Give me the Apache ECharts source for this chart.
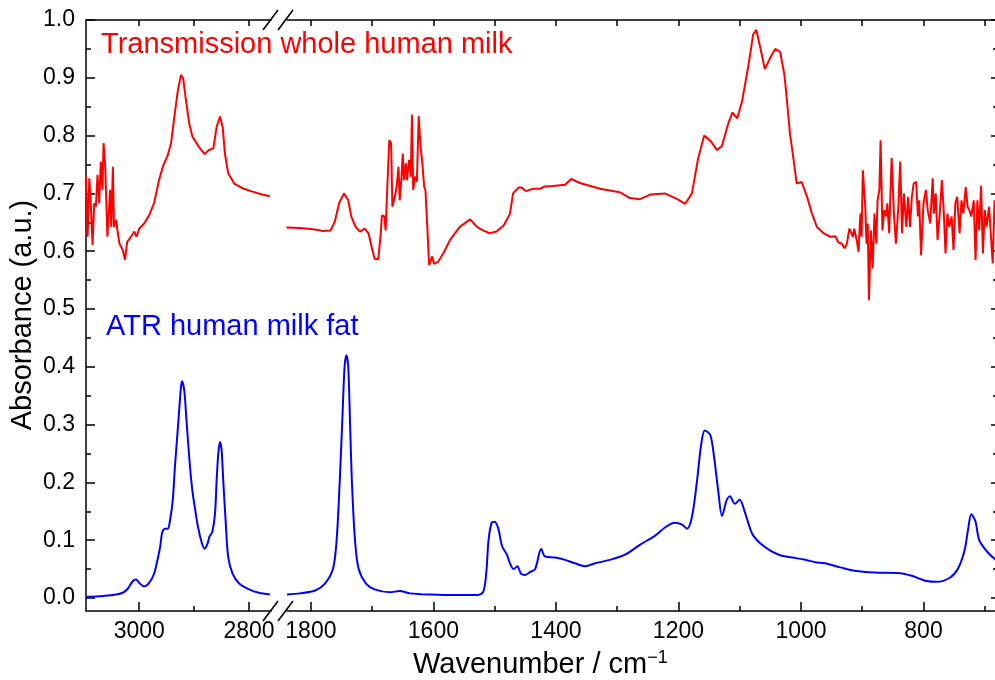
<!DOCTYPE html>
<html>
<head>
<meta charset="utf-8">
<title>FTIR spectra of human milk</title>
<script src="https://cdn.jsdelivr.net/npm/echarts@6/dist/echarts.min.js"></script>
<style>
  html, body { margin: 0; padding: 0; background: #fff; }
  #chart { width: 995px; height: 680px; }
</style>
</head>
<body>
<div id="chart"></div>
<script>
// tick values
const yMajor = [0, 0.1, 0.2, 0.3, 0.4, 0.5, 0.6, 0.7, 0.8, 0.9, 1.0]
const yMinor = [0.05, 0.15, 0.25, 0.35, 0.45, 0.55, 0.65, 0.75, 0.85, 0.95]
const highMajor = [3000, 2800]
const highMinor = [2900]
const lowMajor = [1800, 1600, 1400, 1200, 1000, 800]
const lowMinor = [1700, 1500, 1300, 1100, 900, 700]

// transmission, whole human milk (red), high wavenumber part
const transHighWn = [3097, 3094, 3091, 3088, 3085, 3082, 3079, 3076, 3073, 3070, 3067, 3065, 3062, 3058, 3053, 3051, 3048, 3046, 3042, 3039, 3036, 3033, 3030, 3026, 3022, 3015, 3009, 3005, 3000, 2991, 2982, 2973, 2964, 2956, 2948, 2942, 2936, 2930, 2924, 2920, 2915, 2909, 2903, 2891, 2881, 2873, 2865, 2859, 2853, 2848, 2844, 2838, 2827, 2812, 2794, 2776, 2762]
const transHighAbs = [0.732, 0.625, 0.726, 0.677, 0.611, 0.683, 0.677, 0.732, 0.683, 0.755, 0.706, 0.787, 0.746, 0.625, 0.706, 0.642, 0.746, 0.642, 0.654, 0.631, 0.613, 0.616, 0.602, 0.585, 0.616, 0.625, 0.634, 0.625, 0.639, 0.648, 0.662, 0.683, 0.723, 0.749, 0.766, 0.787, 0.833, 0.876, 0.905, 0.899, 0.862, 0.821, 0.798, 0.780, 0.768, 0.775, 0.778, 0.815, 0.833, 0.815, 0.769, 0.735, 0.717, 0.709, 0.703, 0.698, 0.695]

// transmission, low wavenumber part
const transLowWn = [1840, 1818, 1796, 1780, 1768, 1761, 1754, 1746, 1739, 1734, 1727, 1720, 1712, 1706, 1701, 1696, 1690, 1686, 1684, 1680, 1678, 1675, 1672, 1669, 1667, 1663, 1660, 1657, 1655, 1652, 1650, 1648, 1645, 1643, 1640, 1637, 1635, 1633, 1630, 1627, 1624, 1621, 1618, 1615, 1613, 1610, 1607, 1604, 1602, 1599, 1592, 1584, 1573, 1557, 1540, 1529, 1519, 1508, 1497, 1485, 1475, 1470, 1461, 1456, 1449, 1437, 1426, 1418, 1405, 1385, 1375, 1361, 1328, 1296, 1279, 1263, 1246, 1222, 1202, 1189, 1178, 1168, 1158, 1147, 1137, 1129, 1119, 1112, 1104, 1096, 1086, 1078, 1073, 1067, 1059, 1050, 1042, 1034, 1027, 1023, 1018, 1012, 1007, 999, 990, 982, 974, 963, 952, 944, 939, 933, 929, 925, 921, 918, 915, 913, 909, 906, 903, 901, 899, 895, 893, 891, 889, 886, 883, 880, 877, 875, 872, 870, 867, 864, 861, 859, 856, 852, 848, 845, 841, 838, 835, 832, 828, 825, 822, 819, 816, 812, 809, 807, 804, 800, 796, 793, 789, 785, 783, 780, 777, 773, 770, 767, 764, 761, 758, 754, 751, 748, 745, 741, 738, 735, 731, 728, 725, 722, 718, 715, 712, 709, 706, 703, 700, 697, 693, 690, 687, 684, 681]
const transLowAbs = [0.641, 0.640, 0.638, 0.635, 0.636, 0.651, 0.683, 0.700, 0.688, 0.660, 0.642, 0.634, 0.639, 0.631, 0.608, 0.587, 0.586, 0.631, 0.662, 0.660, 0.636, 0.717, 0.792, 0.787, 0.677, 0.694, 0.711, 0.746, 0.688, 0.729, 0.769, 0.723, 0.752, 0.723, 0.758, 0.729, 0.836, 0.706, 0.729, 0.720, 0.834, 0.781, 0.752, 0.711, 0.706, 0.642, 0.576, 0.579, 0.591, 0.578, 0.582, 0.596, 0.619, 0.642, 0.655, 0.642, 0.636, 0.631, 0.634, 0.645, 0.665, 0.700, 0.710, 0.710, 0.704, 0.708, 0.708, 0.712, 0.713, 0.715, 0.725, 0.718, 0.708, 0.702, 0.692, 0.690, 0.698, 0.700, 0.690, 0.682, 0.700, 0.760, 0.800, 0.790, 0.775, 0.782, 0.820, 0.840, 0.830, 0.860, 0.920, 0.975, 0.983, 0.955, 0.915, 0.935, 0.950, 0.945, 0.905, 0.862, 0.804, 0.758, 0.717, 0.720, 0.694, 0.665, 0.642, 0.631, 0.625, 0.626, 0.615, 0.613, 0.605, 0.613, 0.639, 0.642, 0.625, 0.639, 0.619, 0.599, 0.665, 0.625, 0.740, 0.677, 0.613, 0.648, 0.515, 0.636, 0.570, 0.665, 0.613, 0.688, 0.706, 0.792, 0.636, 0.671, 0.660, 0.683, 0.631, 0.761, 0.660, 0.613, 0.677, 0.755, 0.631, 0.700, 0.642, 0.694, 0.642, 0.694, 0.717, 0.720, 0.660, 0.688, 0.593, 0.683, 0.706, 0.671, 0.648, 0.726, 0.665, 0.700, 0.619, 0.671, 0.723, 0.671, 0.596, 0.665, 0.642, 0.660, 0.602, 0.683, 0.694, 0.631, 0.688, 0.665, 0.711, 0.677, 0.671, 0.660, 0.688, 0.585, 0.688, 0.636, 0.713, 0.596, 0.671, 0.642, 0.677, 0.677, 0.579, 0.688, 0.660]

// ATR, human milk fat (blue), high wavenumber part
const atrHighWn = [3097, 3073, 3048, 3030, 3021, 3012, 3006, 3000, 2991, 2982, 2973, 2967, 2962, 2958, 2953, 2948, 2944, 2939, 2935, 2929, 2924, 2922, 2918, 2914, 2909, 2904, 2899, 2893, 2886, 2881, 2876, 2872, 2867, 2862, 2859, 2856, 2853, 2850, 2847, 2842, 2838, 2830, 2818, 2800, 2782, 2762]
const atrHighAbs = [0.002, 0.003, 0.005, 0.009, 0.016, 0.029, 0.032, 0.026, 0.020, 0.026, 0.042, 0.065, 0.088, 0.114, 0.120, 0.120, 0.134, 0.169, 0.227, 0.302, 0.365, 0.375, 0.359, 0.308, 0.244, 0.192, 0.158, 0.123, 0.095, 0.085, 0.093, 0.106, 0.114, 0.146, 0.204, 0.250, 0.270, 0.256, 0.204, 0.123, 0.071, 0.042, 0.025, 0.015, 0.009, 0.006]

// ATR, low wavenumber part
const atrLowWn = [1839, 1818, 1793, 1777, 1764, 1758, 1753, 1749, 1745, 1742, 1739, 1736, 1733, 1728, 1722, 1710, 1696, 1671, 1655, 1638, 1606, 1557, 1530, 1519, 1514, 1510, 1505, 1500, 1494, 1488, 1480, 1475, 1469, 1463, 1457, 1450, 1442, 1434, 1424, 1418, 1401, 1385, 1369, 1352, 1336, 1312, 1287, 1263, 1238, 1222, 1206, 1194, 1186, 1178, 1170, 1163, 1157, 1148, 1142, 1135, 1129, 1121, 1116, 1108, 1100, 1092, 1080, 1067, 1050, 1034, 1014, 993, 977, 961, 936, 912, 880, 838, 818, 797, 778, 757, 744, 733, 727, 722, 715, 709, 696, 681]
const atrLowAbs = [0.006, 0.008, 0.013, 0.025, 0.050, 0.100, 0.200, 0.300, 0.400, 0.420, 0.400, 0.300, 0.200, 0.100, 0.050, 0.025, 0.015, 0.010, 0.012, 0.008, 0.006, 0.005, 0.005, 0.010, 0.040, 0.100, 0.130, 0.132, 0.120, 0.090, 0.075, 0.060, 0.050, 0.055, 0.042, 0.040, 0.045, 0.050, 0.085, 0.072, 0.070, 0.066, 0.060, 0.055, 0.060, 0.066, 0.075, 0.092, 0.108, 0.122, 0.130, 0.127, 0.120, 0.140, 0.200, 0.265, 0.290, 0.282, 0.245, 0.185, 0.142, 0.170, 0.176, 0.163, 0.170, 0.150, 0.112, 0.095, 0.082, 0.074, 0.070, 0.066, 0.062, 0.060, 0.053, 0.047, 0.044, 0.043, 0.038, 0.030, 0.028, 0.035, 0.050, 0.082, 0.120, 0.145, 0.132, 0.100, 0.080, 0.065]

const pairs = (xs, ys) => xs.map((x, i) => [x, ys[i]])

const font = '"Liberation Sans", Arial, sans-serif'
const black = { color: '#000', width: 1.5 }
const yMin = -0.0225
const yMax = 1.0
const plain = (v) => String(v)

function tickAxis(extra) {
  // an axis that only draws ticks (labels off, no line)
  return Object.assign({
    type: 'value',
    axisLine: { show: false, onZero: false },
    axisLabel: { show: false },
    splitLine: { show: false },
  }, extra)
}

const chart = echarts.init(document.getElementById('chart'))

const option = {
  animation: false,
  backgroundColor: '#fff',
  grid: [
    { left: 86, top: 20, width: 185, height: 591, outerBoundsMode: 'none' },
    { left: 287, top: 20, width: 710, height: 591, outerBoundsMode: 'none' },
  ],
  xAxis: [
    // left part, bottom, major ticks + labels
    {
      gridIndex: 0, type: 'value', inverse: true, min: 2760, max: 3097, position: 'bottom',
      axisLine: { show: true, onZero: false, lineStyle: black },
      axisTick: { show: true, inside: true, length: 9, customValues: highMajor, lineStyle: black },
      axisLabel: { customValues: highMajor, margin: 9, fontSize: 23, color: '#000', fontFamily: font, formatter: plain },
      splitLine: { show: false },
    },
    tickAxis({ gridIndex: 0, inverse: true, min: 2760, max: 3097, position: 'bottom',
      axisTick: { show: true, inside: true, length: 5, customValues: highMinor, lineStyle: black } }),
    {
      gridIndex: 0, type: 'value', inverse: true, min: 2760, max: 3097, position: 'top',
      axisLine: { show: true, onZero: false, lineStyle: black },
      axisTick: { show: true, inside: true, length: 6, customValues: highMajor.concat(highMinor), lineStyle: black },
      axisLabel: { show: false },
      splitLine: { show: false },
    },
    // right part
    {
      gridIndex: 1, type: 'value', inverse: true, min: 680, max: 1839, position: 'bottom',
      axisLine: { show: true, onZero: false, lineStyle: black },
      axisTick: { show: true, inside: true, length: 9, customValues: lowMajor, lineStyle: black },
      axisLabel: { customValues: lowMajor, margin: 9, fontSize: 23, color: '#000', fontFamily: font, formatter: plain },
      splitLine: { show: false },
    },
    tickAxis({ gridIndex: 1, inverse: true, min: 680, max: 1839, position: 'bottom',
      axisTick: { show: true, inside: true, length: 5, customValues: lowMinor, lineStyle: black } }),
    {
      gridIndex: 1, type: 'value', inverse: true, min: 680, max: 1839, position: 'top',
      axisLine: { show: true, onZero: false, lineStyle: black },
      axisTick: { show: true, inside: true, length: 6, customValues: lowMajor.concat(lowMinor), lineStyle: black },
      axisLabel: { show: false },
      splitLine: { show: false },
    },
  ],
  yAxis: [
    {
      gridIndex: 0, type: 'value', min: yMin, max: yMax, position: 'left',
      axisLine: { show: true, onZero: false, lineStyle: black },
      axisTick: { show: true, inside: true, length: 9, customValues: yMajor, lineStyle: black },
      axisLabel: {
        customValues: yMajor, margin: 11, fontSize: 23, color: '#000', fontFamily: font,
        formatter: (v) => v.toFixed(1),
      },
      splitLine: { show: false },
    },
    tickAxis({ gridIndex: 0, min: yMin, max: yMax, position: 'left',
      axisTick: { show: true, inside: true, length: 5, customValues: yMinor, lineStyle: black } }),
    {
      gridIndex: 1, type: 'value', min: yMin, max: yMax, position: 'right',
      axisLine: { show: true, onZero: false, lineStyle: black },
      axisTick: { show: true, inside: true, length: 6, customValues: yMajor, lineStyle: black },
      axisLabel: { show: false },
      splitLine: { show: false },
    },
    tickAxis({ gridIndex: 1, min: yMin, max: yMax, position: 'right',
      axisTick: { show: true, inside: true, length: 4, customValues: yMinor, lineStyle: black } }),
  ],
  series: [
    {
      name: 'Transmission whole human milk', type: 'line', xAxisIndex: 0, yAxisIndex: 0,
      data: pairs(transHighWn, transHighAbs), showSymbol: false,
      lineStyle: { color: '#ff0000', width: 2 },
    },
    {
      name: 'Transmission whole human milk', type: 'line', xAxisIndex: 3, yAxisIndex: 2,
      data: pairs(transLowWn, transLowAbs), showSymbol: false,
      lineStyle: { color: '#ff0000', width: 2 },
    },
    {
      name: 'ATR human milk fat', type: 'line', xAxisIndex: 0, yAxisIndex: 0,
      data: pairs(atrHighWn, atrHighAbs), showSymbol: false, smooth: 0.3,
      lineStyle: { color: '#0000ff', width: 2 },
    },
    {
      name: 'ATR human milk fat', type: 'line', xAxisIndex: 3, yAxisIndex: 2,
      data: pairs(atrLowWn, atrLowAbs), showSymbol: false, smooth: 0.3,
      lineStyle: { color: '#0000ff', width: 2 },
    },
  ],
  graphic: [
    // axis break marks
    { type: 'line', z: 100, shape: { x1: 263, y1: 30, x2: 278, y2: 10 }, style: { stroke: '#000', lineWidth: 1.5 } },
    { type: 'line', z: 100, shape: { x1: 278, y1: 30, x2: 293, y2: 10 }, style: { stroke: '#000', lineWidth: 1.5 } },
    { type: 'line', z: 100, shape: { x1: 263, y1: 621, x2: 278, y2: 601 }, style: { stroke: '#000', lineWidth: 1.5 } },
    { type: 'line', z: 100, shape: { x1: 278, y1: 621, x2: 293, y2: 601 }, style: { stroke: '#000', lineWidth: 1.5 } },
    {
      type: 'text', z: 100, x: 101, y: 45,
      style: { text: 'Transmission whole human milk', fill: '#ff0000', fontSize: 29, fontFamily: font, verticalAlign: 'middle' },
    },
    {
      type: 'text', z: 100, x: 106, y: 327,
      style: { text: 'ATR human milk fat', fill: '#0000ff', fontSize: 29, fontFamily: font, verticalAlign: 'middle' },
    },
    {
      type: 'text', z: 100, x: 23, y: 315, rotation: Math.PI / 2,
      style: { text: 'Absorbance (a.u.)', fill: '#000', fontSize: 29, fontFamily: font, align: 'center', verticalAlign: 'middle' },
    },
    {
      type: 'text', z: 100, x: 413, y: 665,
      style: {
        text: 'Wavenumber / cm{sup|−1}', fill: '#000', fontSize: 29, fontFamily: font, verticalAlign: 'middle',
        rich: { sup: { fontSize: 18, fontFamily: font, fill: '#000', verticalAlign: 'top', padding: [0, 0, 14, 0] } },
      },
    },
  ],
}

chart.setOption(option)
</script>
</body>
</html>
